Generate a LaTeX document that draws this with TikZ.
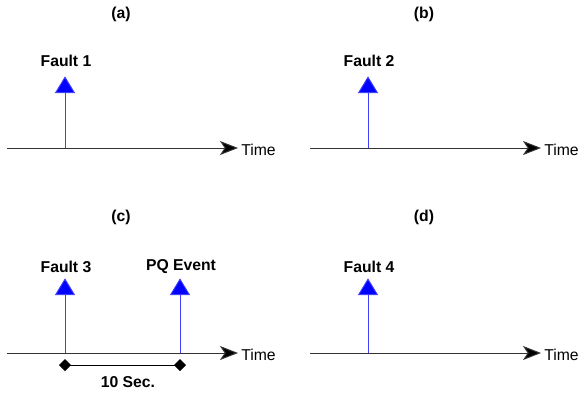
\documentclass[tikz,border=0pt]{standalone}
\usepackage{fontspec}
\setmainfont{Liberation Sans}
\usetikzlibrary{arrows.meta}
\begin{document}
\begin{tikzpicture}[x=0.75pt,y=-0.75pt,
  lbl/.style={font=\bfseries\fontsize{11.8}{13}\selectfont, inner sep=0pt},
  tlbl/.style={font=\fontsize{11.8}{13}\selectfont, inner sep=0pt, anchor=west},
  axis/.style={draw=black!80, line width=0.75pt, -{Stealth[length=13.5pt,width=10.5pt,inset=3.5pt,fill=black]}},
  event/.style={draw=blue!75, line width=0.7pt, -{Triangle[length=12.5pt,width=15pt,fill=blue]}, shorten >=-0.5pt},
  span/.style={draw=black, line width=0.75pt, {Diamond[length=9pt,width=9pt]}-{Diamond[length=9pt,width=9pt]}}]
\useasboundingbox (0,0) rectangle (580,396);

% (a)
\node[lbl] (ta) at (121,14) {(a)};
\coordinate (a0) at (7,148);
\coordinate (a1) at (238,148);
\draw[axis] (a0) -- (a1);
\node[tlbl] (timea) at (241,150) {Time};
\coordinate (fa) at (65,148);
\coordinate (fatop) at (65,77);
\draw[event] (fa) -- (fatop);
\node[lbl] (fault1) at (66,61) {Fault 1};

% (b)
\node[lbl] (tb) at (424,14) {(b)};
\coordinate (b0) at (310,148);
\coordinate (b1) at (541,148);
\draw[axis] (b0) -- (b1);
\node[tlbl] (timeb) at (544,150) {Time};
\coordinate (fb) at (368,148);
\coordinate (fbtop) at (368,77);
\draw[event] (fb) -- (fbtop);
\node[lbl] (fault2) at (369,61) {Fault 2};

% (c)
\node[lbl] (tc) at (121,217) {(c)};
\coordinate (c0) at (7,353);
\coordinate (c1) at (238,353);
\draw[axis] (c0) -- (c1);
\node[tlbl] (timec) at (241,355) {Time};
\coordinate (fc) at (65,353);
\coordinate (fctop) at (65,279);
\draw[event] (fc) -- (fctop);
\node[lbl] (fault3) at (66,267) {Fault 3};
\coordinate (pq) at (180,353);
\coordinate (pqtop) at (180,279);
\draw[event] (pq) -- (pqtop);
\node[lbl] (pqevent) at (181,267) {PQ Event};
\coordinate (sA) at (59,365);
\coordinate (sB) at (186,365);
\draw[span] (sA) -- (sB);
\node[lbl] (tensec) at (128,382) {10 Sec.};

% (d)
\node[lbl] (td) at (424,217) {(d)};
\coordinate (d0) at (310,353);
\coordinate (d1) at (541,353);
\draw[axis] (d0) -- (d1);
\node[tlbl] (timed) at (544,355) {Time};
\coordinate (fd) at (368,353);
\coordinate (fdtop) at (368,279);
\draw[event] (fd) -- (fdtop);
\node[lbl] (fault4) at (369,267) {Fault 4};
\end{tikzpicture}
\end{document}
